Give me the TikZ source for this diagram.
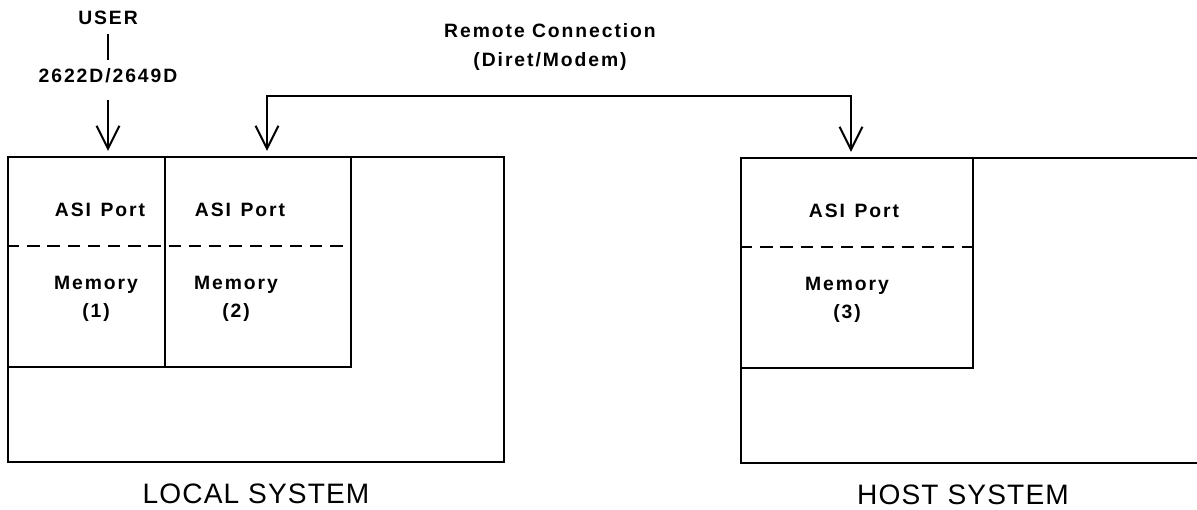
\documentclass[tikz,border=0pt]{standalone}
\usepackage{fontspec}
\setmainfont{Liberation Sans}
\usetikzlibrary{arrows.meta,positioning,calc}
\tikzset{
  sysbox/.style   = {draw, line width=1.1pt, inner sep=0pt},
  membox/.style   = {draw, line width=1.1pt, inner sep=0pt, minimum height=4.2cm},
  sepline/.style  = {line width=1.1pt, dash pattern=on 7pt off 4.5pt},
  flecha/.style   = {-{Straight Barb[length=13pt,width=13pt]}, line width=1.1pt},
  flechas/.style  = {{Straight Barb[length=13pt,width=13pt]}-{Straight Barb[length=13pt,width=13pt]}, line width=1.1pt},
  lbl/.style      = {font=\fontsize{11}{16}\selectfont\bfseries\addfontfeatures{LetterSpace=10},
                     align=center, inner sep=1pt},
  syslbl/.style   = {font=\fontsize{16}{19}\selectfont\addfontfeatures{LetterSpace=4}, inner sep=1pt},
}
\newcommand{\wsp}{\hspace{0.5em}}

\begin{document}
\begin{tikzpicture}[x=0.02cm, y=-0.02cm]
  \useasboundingbox (0,0) rectangle (1197,510);
  \clip (0,0) rectangle (1197,510);

  % local system
  \node[sysbox, minimum width=9.92cm, minimum height=6.1cm] (local) at (256,309.5) {};
  \node[membox, minimum width=3.14cm] (mem1) at (86.5,262) {};
  \node[membox, minimum width=3.72cm] (mem2) at (258,262) {};
  \draw[sepline] ($(mem1.north west)+(0,90)$) -- ($(mem2.north east)+(0,90)$);
  \node[lbl] (port1) at (100,210) {ASI\wsp Port};
  \node[lbl] (memt1) at (96,299) {Memory\\(1)};
  \node[lbl] (port2) at (240,210) {ASI\wsp Port};
  \node[lbl] (memt2) at (236,299) {Memory\\(2)};
  \node[syslbl] (loclbl) at (256,494) {LOCAL SYSTEM};

  % host system (runs off the right edge)
  \node[sysbox, minimum width=9.92cm, minimum height=6.1cm] (host) at (989,310.5) {};
  \node[membox, minimum width=4.64cm] (mem3) at (857,263) {};
  \draw[sepline] ($(mem3.north west)+(0,90)$) -- ($(mem3.north east)+(0,90)$);
  \node[lbl] (port3) at (854,211) {ASI\wsp Port};
  \node[lbl] (memt3) at (847,300) {Memory\\(3)};
  \node[syslbl] (hostlbl) at (963,495) {HOST SYSTEM};

  % user terminal
  \node[lbl] (user) at (108,18) {USER};
  \node[lbl] (term) at (108,76) {2622D/2649D};
  \draw[line width=1.1pt, shorten <=4pt, shorten >=4pt] (user) -- (term);
  \coordinate (uin) at (108,100);
  \draw[flecha, shorten >=3pt] (uin) -- (uin |- mem1.north);

  % remote link
  \node[lbl] (remote) at (550,47) {Remote Connection\\(Diret/Modem)};
  \coordinate (rl) at (267,96);
  \coordinate (rr) at (851,96);
  \draw[flechas, shorten <=3pt, shorten >=3pt] (rl |- mem2.north) -- (rl) -- (rr) -- (rr |- mem3.north);
\end{tikzpicture}
\end{document}
